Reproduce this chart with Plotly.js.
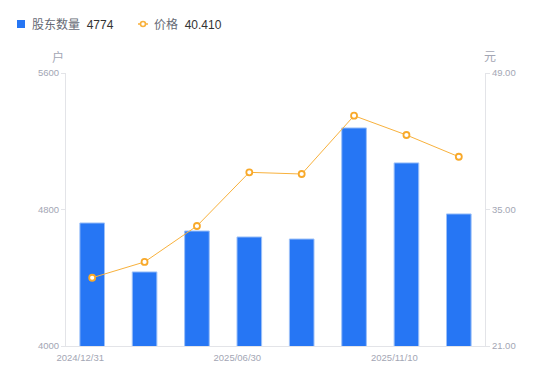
<!DOCTYPE html>
<html>
<head>
<meta charset="utf-8">
<script src="https://cdn.plot.ly/plotly-3.0.1.min.js"></script>
<style>html,body{margin:0;padding:0;background:#fff;}#chart{width:550px;height:381px;}</style>
</head>
<body>
<div id="chart"></div>
<script>
const dates = ['2024/12/31','2025/03/10','2025/03/31','2025/06/30','2025/08/31','2025/09/30','2025/11/10','2025/11/30'];
const holders = [4721, 4434, 4674, 4639, 4627, 5278, 5073, 4774];
const prices = [28.00, 29.62, 33.31, 38.81, 38.64, 44.62, 42.64, 40.41];
const shownTicks = ['2024/12/31','2025/06/30','2025/11/10'];
const leftTicks = [4000, 4800, 5600];
const rightTicks = [21, 35, 49];

const gray = '#a3a6b4';
const barColor = '#2676f4';
const lineColor = '#f8b13c';
const fontFam = '"Liberation Sans", Arial, "Noto Sans CJK SC", sans-serif';

const traces = [
  {
    type: 'bar', x: dates, y: holders, yaxis: 'y', name: '股东数量',
    marker: {color: barColor, line: {color: '#9cc0f8', width: 1}},
    showlegend: false
  },
  {
    type: 'scatter', mode: 'lines+markers', x: dates, y: prices, yaxis: 'y2', name: '价格',
    line: {color: lineColor, width: 1},
    marker: {symbol: 'circle', size: 6, color: '#ffffff', line: {color: '#f8a92a', width: 1.8}},
    showlegend: false
  }
];

// legend drawn as text + small icons above the plot
const legendY = 49; // px above plot top
const legendShapes = [
  {type: 'rect', xref: 'paper', yref: 'paper', xsizemode: 'pixel', ysizemode: 'pixel',
   xanchor: 0, yanchor: 1, x0: -49, x1: -41, y0: legendY - 4, y1: legendY + 4,
   fillcolor: barColor, line: {width: 0}},
  {type: 'line', xref: 'paper', yref: 'paper', xsizemode: 'pixel', ysizemode: 'pixel',
   xanchor: 0, yanchor: 1, x0: 72, x1: 82, y0: legendY, y1: legendY,
   line: {color: lineColor, width: 1.5}},
  {type: 'circle', xref: 'paper', yref: 'paper', xsizemode: 'pixel', ysizemode: 'pixel',
   xanchor: 0, yanchor: 1, x0: 74.5, x1: 79.5, y0: legendY - 2.5, y1: legendY + 2.5,
   fillcolor: '#ffffff', line: {color: lineColor, width: 1.6}}
];

const layout = {
  width: 550, height: 381,
  margin: {l: 66, r: 65, t: 73, b: 35},
  paper_bgcolor: '#fff', plot_bgcolor: '#fff',
  font: {family: fontFam, size: 10, color: gray},
  showlegend: false,
  bargap: 0.53,
  xaxis: {
    type: 'category', tickmode: 'array', tickvals: shownTicks, ticktext: shownTicks,
    showline: true, linecolor: '#e3e4e8', linewidth: 1, showgrid: false,
    ticks: '', tickfont: {size: 9.5, color: gray}, ticklabelshift: -12, ticklabelstandoff: 3
  },
  yaxis: {
    range: [4000, 5600], tickmode: 'array', tickvals: leftTicks,
    showline: true, linecolor: '#e3e4e8', showgrid: false, zeroline: false,
    ticks: 'outside', ticklen: 4, tickcolor: '#e3e4e8',
    tickfont: {size: 9.5, color: gray}
  },
  yaxis2: {
    range: [21, 49], tickmode: 'array', tickvals: rightTicks,
    ticktext: rightTicks.map(v => v.toFixed(2)),
    overlaying: 'y', side: 'right',
    showline: true, linecolor: '#e3e4e8', showgrid: false, zeroline: false,
    ticks: 'outside', ticklen: 4, tickcolor: '#e3e4e8',
    tickfont: {size: 9.5, color: gray}
  },
  shapes: legendShapes,
  annotations: [
    {text: '户', xref: 'paper', yref: 'paper', x: 0, y: 1, xanchor: 'center', yanchor: 'middle',
     xshift: -8, yshift: 16, showarrow: false, font: {size: 12, color: gray}},
    {text: '元', xref: 'paper', yref: 'paper', x: 1, y: 1, xanchor: 'center', yanchor: 'middle',
     xshift: 5, yshift: 16, showarrow: false, font: {size: 12, color: gray}},
    {text: '股东数量  <span style="color:#333">' + holders[holders.length-1] + '</span>',
     xref: 'paper', yref: 'paper', x: 0, y: 1, xanchor: 'left', yanchor: 'middle',
     xshift: -36, yshift: legendY, showarrow: false, font: {size: 12, color: '#666a75'}},
    {text: '价格  <span style="color:#333">' + prices[prices.length-1].toFixed(3) + '</span>',
     xref: 'paper', yref: 'paper', x: 0, y: 1, xanchor: 'left', yanchor: 'middle',
     xshift: 86, yshift: legendY, showarrow: false, font: {size: 12, color: '#666a75'}}
  ]
};

Plotly.newPlot('chart', traces, layout, {displayModeBar: false, staticPlot: true});
</script>
</body>
</html>
